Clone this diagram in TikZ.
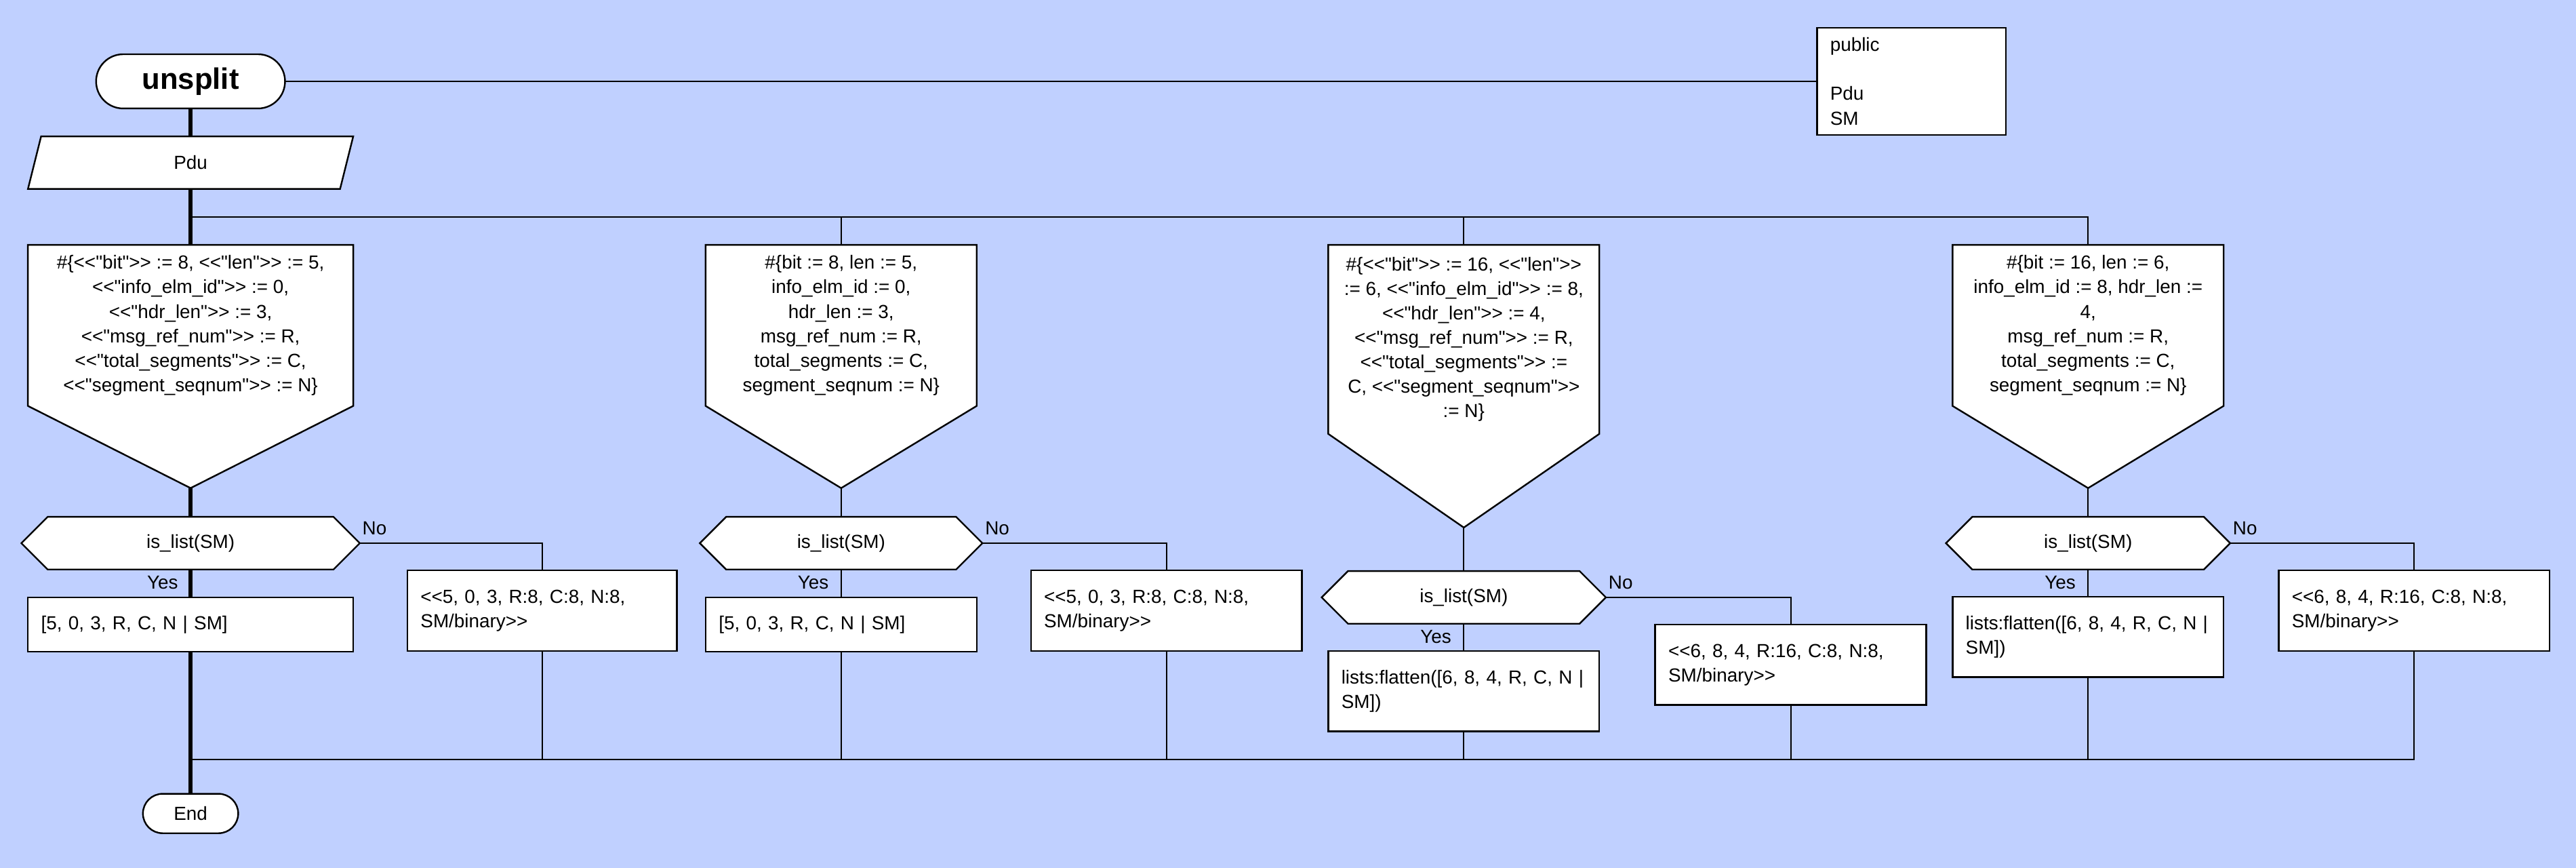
\documentclass[tikz,border=0pt]{standalone}
\usepackage{fontspec}
\setmainfont{Liberation Sans}[Ligatures=TeXOff]
\usetikzlibrary{calc}
\definecolor{paperblue}{RGB}{192,208,255}
\pgfdeclarelayer{paper}
\pgfdeclarelayer{outline}
\pgfsetlayers{paper,outline,main}
\tikzset{
  txt/.style={font=\fontsize{11.5}{14.9}\selectfont},
  box/.style={txt, draw, fill=white, line width=1pt, inner xsep=8pt, inner ysep=0pt, outer sep=0pt, align=left},
  ghost/.style={txt, draw=none, inner sep=0pt, outer sep=0pt, align=center},
  shapeline/.style={draw, fill=white, line width=1pt, line join=miter},
  flow/.style={line width=0.75pt},
  mainflow/.style={line width=2.2pt},
  terminal/.style={txt, draw, fill=white, line width=1pt, rounded corners=#1, inner sep=0pt, outer sep=0pt},
  answer/.style={txt, inner sep=0pt},
}
\begin{document}
\begin{tikzpicture}[x=1pt,y=-1pt]
\useasboundingbox (0,0) rectangle (1568,528);
\begin{pgfonlayer}{paper}
\fill[paperblue] (0,0) rectangle (1568,528);
\end{pgfonlayer}

% start, interface and input
\node[terminal=16.5pt, minimum width=115pt, minimum height=33pt,
      font=\fontsize{18}{21}\selectfont\bfseries] (start) at (116,49.5) {unsplit};
\node[box, text width=99pt, minimum height=65pt] (iface) at (1163.5,49.5)
  {public\\\mbox{}\\Pdu\\SM};
\node[ghost, minimum width=190pt, minimum height=32pt] (pdu) at (116,99) {Pdu};

% header maps
\node[ghost, minimum width=198pt, minimum height=98pt] (c1) at (116,198)
  {\#\{<<"bit">> := 8, <<"len">> := 5,\\
   <<"info\_elm\_id">> := 0,\\
   <<"hdr\_len">> := 3,\\
   <<"msg\_ref\_num">> := R,\\
   <<"total\_segments">> := C,\\
   <<"segment\_seqnum">> := N\}};
\coordinate (c1-tip) at (116,297);
\node[ghost, minimum width=165pt, minimum height=98pt] (c2) at (512,198)
  {\#\{bit := 8, len := 5,\\
   info\_elm\_id := 0,\\
   hdr\_len := 3,\\
   msg\_ref\_num := R,\\
   total\_segments := C,\\
   segment\_seqnum := N\}};
\coordinate (c2-tip) at (512,297);
\node[ghost, minimum width=165pt, minimum height=115pt] (c3) at (891,206.5)
  {\#\{<<"bit">> := 16, <<"len">>\\
   := 6, <<"info\_elm\_id">> := 8,\\
   <<"hdr\_len">> := 4,\\
   <<"msg\_ref\_num">> := R,\\
   <<"total\_segments">> :=\\
   C, <<"segment\_seqnum">>\\
   := N\}};
\coordinate (c3-tip) at (891,321);
\node[ghost, minimum width=165pt, minimum height=98pt] (c4) at (1271,198)
  {\#\{bit := 16, len := 6,\\
   info\_elm\_id := 8, hdr\_len :=\\
   4,\\
   msg\_ref\_num := R,\\
   total\_segments := C,\\
   segment\_seqnum := N\}};
\coordinate (c4-tip) at (1271,297);

% decisions
\node[ghost, minimum width=206pt, minimum height=32pt] (d1) at (116,330.5) {is\_list(SM)};
\node[ghost, minimum width=172pt, minimum height=32pt] (d2) at (512,330.5) {is\_list(SM)};
\node[ghost, minimum width=173pt, minimum height=32pt] (d3) at (891,363.5) {is\_list(SM)};
\node[ghost, minimum width=173pt, minimum height=32pt] (d4) at (1271,330.5) {is\_list(SM)};

% results
\node[box, text width=182pt, minimum height=33pt] (y1) at (116,380) {[5, 0, 3, R, C, N | SM]};
\node[box, text width=148pt, minimum height=49pt] (n1) at (330,371.5) {<<5, 0, 3, R:8, C:8, N:8,\\SM/binary>>};
\node[box, text width=149pt, minimum height=33pt] (y2) at (512,380) {[5, 0, 3, R, C, N | SM]};
\node[box, text width=149pt, minimum height=49pt] (n2) at (710,371.5) {<<5, 0, 3, R:8, C:8, N:8,\\SM/binary>>};
\node[box, text width=149pt, minimum height=49pt] (y3) at (891,420.5) {lists:flatten([6, 8, 4, R, C, N |\\SM])};
\node[box, text width=149pt, minimum height=49pt] (n3) at (1090,404.5) {<<6, 8, 4, R:16, C:8, N:8,\\SM/binary>>};
\node[box, text width=149pt, minimum height=49pt] (y4) at (1271,387.5) {lists:flatten([6, 8, 4, R, C, N |\\SM])};
\node[box, text width=149pt, minimum height=49pt] (n4) at (1469.5,371.5) {<<6, 8, 4, R:16, C:8, N:8,\\SM/binary>>};

\node[terminal=12pt, minimum width=58pt, minimum height=24pt] (stop) at (116,495) {End};

% branch labels
\foreach \d in {1,2,3,4}{
  \node[answer] (yes\d) at ([shift={(-17,8)}]d\d.south) {Yes};
  \node[answer] (no\d) at ([shift={(9,-9)}]d\d.east) {No};
}

% outlines of the drawn shapes
\begin{pgfonlayer}{outline}
\path[shapeline] ([xshift=4pt]pdu.north west) -- ([xshift=4pt]pdu.north east)
  -- ([xshift=-4pt]pdu.south east) -- ([xshift=-4pt]pdu.south west) -- cycle;
\foreach \n in {c1,c2,c3,c4}
  \path[shapeline] (\n.north west) -- (\n.north east) -- (\n.south east)
    -- (\n-tip) -- (\n.south west) -- cycle;
\foreach \n in {d1,d2,d3,d4}
  \path[shapeline] (\n.west) -- ([xshift=16pt]\n.north west) -- ([xshift=-16pt]\n.north east)
    -- (\n.east) -- ([xshift=-16pt]\n.south east) -- ([xshift=16pt]\n.south west) -- cycle;
\end{pgfonlayer}

% connectors
\draw[flow] (start.east) -- (iface.west);
\draw[mainflow] (start.south) -- (pdu.north);
\draw[mainflow] (pdu.south) -- (c1.north);
\coordinate (fork) at (116,132);
\draw[flow] (fork) -- (fork -| c4.north) -- (c4.north);
\draw[flow] (fork -| c2.north) -- (c2.north);
\draw[flow] (fork -| c3.north) -- (c3.north);

\draw[mainflow] (c1-tip) -- (d1.north);
\draw[mainflow] (d1.south) -- (y1.north);
\draw[flow] (d1.east) -| (n1.north);
\foreach \k in {2,3,4}{
  \draw[flow] (c\k-tip) -- (d\k.north);
  \draw[flow] (d\k.south) -- (y\k.north);
  \draw[flow] (d\k.east) -| (n\k.north);
}

\coordinate (join) at (116,462);
\draw[mainflow] (y1.south) -- (stop.north);
\draw[flow] (n4.south) |- (join);
\foreach \n in {n1,y2,n2,y3,n3,y4}
  \draw[flow] (\n.south) -- (\n.south |- join);
\end{tikzpicture}
\end{document}
